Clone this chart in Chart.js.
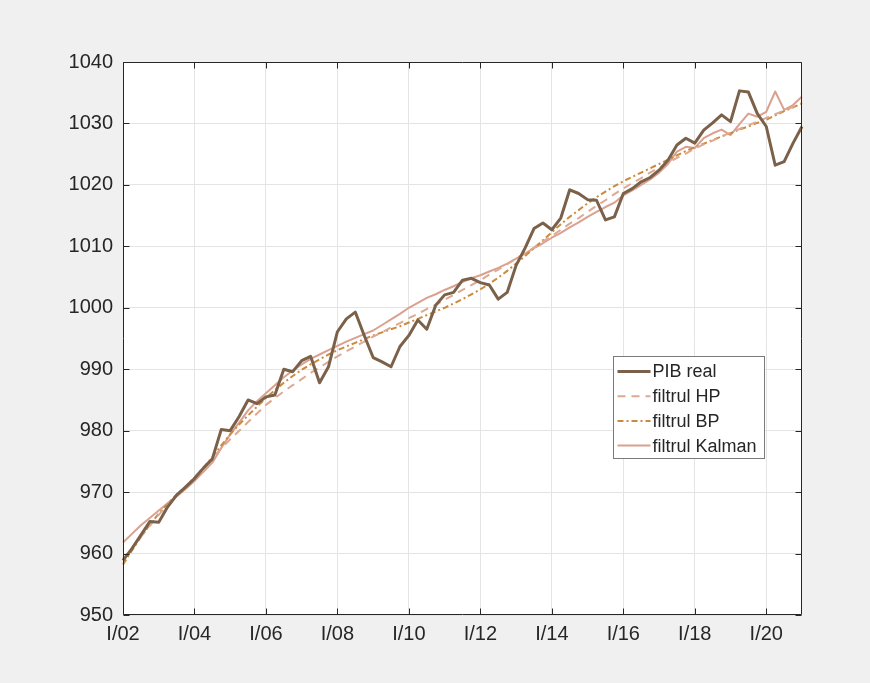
<!DOCTYPE html>
<html>
<head>
<meta charset="utf-8">
<script src="https://cdn.jsdelivr.net/npm/chart.js@4.4.1/dist/chart.umd.min.js"></script>
<style>
  html, body { margin: 0; padding: 0; background: #f0f0f0; }
  canvas { display: block; }
</style>
</head>
<body>
<canvas id="gdpChart" width="870" height="683"></canvas>
<script>
// quarters from I/02 to I/21
const years = ['02','03','04','05','06','07','08','09','10','11','12','13','14','15','16','17','18','19','20'];
const quarterNames = ['I', 'II', 'III', 'IV'];
const lastQuarter = 'I/21';
const xTickLabels = ['I/02','I/04','I/06','I/08','I/10','I/12','I/14','I/16','I/18','I/20'];
const yTicks = [950, 960, 970, 980, 990, 1000, 1010, 1020, 1030, 1040];

// series
const pibReal = [
  958.9, 960.8, 963.0, 965.2, 965.1, 967.6, 969.5, 970.8, 972.2, 973.9,
  975.4, 980.2, 980.0, 982.3, 985.0, 984.4, 985.5, 985.8, 990.0, 989.6,
  991.4, 992.1, 987.8, 990.4, 996.1, 998.2, 999.3, 995.5, 991.9, 991.2,
  990.4, 993.7, 995.5, 998.0, 996.5, 1000.4, 1002.1, 1002.5, 1004.5, 1004.8,
  1004.1, 1003.7, 1001.4, 1002.5, 1006.9, 1009.7, 1012.9, 1013.8, 1012.7, 1014.6,
  1019.2, 1018.6, 1017.6, 1017.5, 1014.3, 1014.8, 1018.6, 1019.4, 1020.5, 1021.2,
  1022.4, 1024.0, 1026.5, 1027.6, 1026.8, 1028.9, 1030.1, 1031.4, 1030.3, 1035.3,
  1035.1, 1031.6, 1029.5, 1023.2, 1023.8, 1026.8, 1029.5
];
const filtrulHP = [
  959.0, 960.9, 962.7, 964.5, 966.3, 967.9, 969.4, 970.9, 972.4, 974.0,
  975.6, 977.1, 978.6, 980.0, 981.4, 982.8, 984.2, 985.3, 986.4, 987.4,
  988.4, 989.4, 990.3, 991.2, 992.1, 992.9, 993.7, 994.5, 995.3, 996.0,
  996.8, 997.5, 998.3, 999.0, 999.8, 1000.5, 1001.3, 1002.1, 1002.9, 1003.7,
  1004.5, 1005.4, 1006.2, 1007.1, 1008.0, 1008.9, 1009.8, 1010.8, 1011.7, 1012.7,
  1013.7, 1014.6, 1015.6, 1016.6, 1017.5, 1018.5, 1019.4, 1020.3, 1021.1, 1022.0,
  1022.8, 1023.6, 1024.4, 1025.1, 1025.9, 1026.6, 1027.2, 1027.9, 1028.5, 1029.1,
  1029.7, 1030.3, 1030.9, 1031.5, 1032.1, 1032.7, 1033.3
];
const filtrulBP = [
  958.2, 960.5, 962.7, 964.7, 966.5, 968.1, 969.6, 970.9, 972.4, 974.0,
  975.7, 977.6, 979.4, 981.0, 982.5, 983.9, 985.3, 986.6, 987.8, 988.9,
  989.9, 990.8, 991.6, 992.4, 993.1, 993.7, 994.3, 994.9, 995.5, 996.0,
  996.5, 997.0, 997.6, 998.2, 998.8, 999.4, 1000.0, 1000.7, 1001.4, 1002.2,
  1003.0, 1003.9, 1004.9, 1006.0, 1007.2, 1008.4, 1009.7, 1011.0, 1012.3, 1013.6,
  1014.8, 1015.9, 1017.0, 1018.0, 1018.9, 1019.8, 1020.6, 1021.3, 1022.0, 1022.7,
  1023.4, 1024.1, 1024.8, 1025.5, 1026.1, 1026.7, 1027.3, 1027.9, 1028.4, 1029.0,
  1029.5, 1030.1, 1030.6, 1031.3, 1032.0, 1032.6, 1033.3
];
const filtrulKalman = [
  961.8, 963.2, 964.6, 965.8, 967.0, 968.2, 969.3, 970.5, 971.8, 973.3,
  974.8, 977.2, 979.4, 981.3, 983.3, 984.8, 986.1, 987.4, 988.7, 989.8,
  990.8, 991.7, 992.4, 993.1, 993.8, 994.5, 995.1, 995.7, 996.3, 997.2,
  998.1, 999.0, 1000.0, 1000.8, 1001.6, 1002.2, 1002.9, 1003.5, 1004.2, 1004.8,
  1005.3, 1005.9, 1006.5, 1007.2, 1008.0, 1008.8, 1009.7, 1010.5, 1011.4, 1012.2,
  1013.1, 1013.9, 1014.8, 1015.6, 1016.4, 1017.1, 1018.3, 1019.1, 1020.0, 1020.9,
  1022.0, 1023.4, 1025.4, 1026.2, 1026.0, 1027.6, 1028.4, 1029.0, 1028.1, 1029.9,
  1031.6, 1031.1, 1031.9, 1035.2, 1032.2, 1033.0, 1034.4
];

// build the category labels (I/02, II/02, ... I/21)
const quarterLabels = [];
years.forEach(yr => quarterNames.forEach(q => quarterLabels.push(q + '/' + yr)));
quarterLabels.push(lastQuarter);

const textColor = '#262626';
const fontFamily = "'Liberation Sans', Arial, Helvetica, sans-serif";

// grey figure, white axes
const figureBackground = {
  id: 'figureBackground',
  beforeDraw(chart) {
    const {ctx, chartArea: a} = chart;
    ctx.save();
    ctx.fillStyle = '#f0f0f0';
    ctx.fillRect(0, 0, chart.width, chart.height);
    ctx.fillStyle = '#ffffff';
    ctx.fillRect(a.left, a.top, a.right - a.left, a.bottom - a.top);
    ctx.restore();
  }
};

// matlab style box with ticks pointing inwards
const axesBox = {
  id: 'axesBox',
  afterDraw(chart) {
    const {ctx, chartArea: a, scales: {x, y}} = chart;
    const L = Math.round(a.left) + 0.5, R = Math.round(a.right) - 0.5;
    const T = Math.round(a.top) + 0.5, B = Math.round(a.bottom) - 0.5;
    const tl = 6;
    ctx.save();
    ctx.strokeStyle = textColor;
    ctx.lineWidth = 1;
    ctx.beginPath();
    ctx.rect(L, T, R - L, B - T);
    yTicks.forEach(v => {
      const py = Math.round(y.getPixelForValue(v)) + 0.5;
      ctx.moveTo(L, py); ctx.lineTo(L + tl, py);
      ctx.moveTo(R, py); ctx.lineTo(R - tl, py);
    });
    xTickLabels.forEach(lbl => {
      const px = Math.round(x.getPixelForValue(quarterLabels.indexOf(lbl))) + 0.5;
      ctx.moveTo(px, B); ctx.lineTo(px, B - tl);
      ctx.moveTo(px, T); ctx.lineTo(px, T + tl);
    });
    ctx.stroke();
    ctx.restore();
  }
};

// legend box inside the axes
const boxLegend = {
  id: 'boxLegend',
  afterDraw(chart) {
    const ctx = chart.ctx;
    const x0 = 613.5, y0 = 356.5, w = 151, h = 102;
    const rowH = 24.7;
    ctx.save();
    ctx.fillStyle = '#ffffff';
    ctx.fillRect(x0, y0, w, h);
    ctx.strokeStyle = '#7a7a7a';
    ctx.lineWidth = 1;
    ctx.strokeRect(x0, y0, w, h);
    ctx.font = '18px ' + fontFamily;
    ctx.textBaseline = 'middle';
    ctx.fillStyle = textColor;
    chart.data.datasets.forEach((ds, i) => {
      const ry = y0 + 15 + i * rowH;
      ctx.save();
      ctx.strokeStyle = ds.borderColor;
      ctx.lineWidth = ds.borderWidth;
      ctx.setLineDash(ds.borderDash || []);
      ctx.beginPath();
      ctx.moveTo(x0 + 4, ry);
      ctx.lineTo(x0 + 37, ry);
      ctx.stroke();
      ctx.restore();
      ctx.fillText(ds.label, x0 + 39, ry + 1);
    });
    ctx.restore();
  }
};

const gdpChart = new Chart(document.getElementById('gdpChart'), {
  type: 'line',
  data: {
    labels: quarterLabels,
    datasets: [
      {label: 'PIB real', data: pibReal, borderColor: '#7b6149', borderWidth: 3},
      {label: 'filtrul HP', data: filtrulHP, borderColor: '#dda992', borderWidth: 2, borderDash: [8, 6]},
      {label: 'filtrul BP', data: filtrulBP, borderColor: '#cb8a3c', borderWidth: 2, borderDash: [6, 3, 2, 3]},
      {label: 'filtrul Kalman', data: filtrulKalman, borderColor: '#daa190', borderWidth: 2}
    ]
  },
  options: {
    responsive: false,
    animation: false,
    devicePixelRatio: 1,
    layout: {padding: {left: 0, top: 62, right: 68, bottom: 0}},
    elements: {point: {radius: 0}, line: {tension: 0, borderJoinStyle: 'round'}},
    plugins: {legend: {display: false}, tooltip: {enabled: false}},
    scales: {
      x: {
        type: 'category',
        offset: false,
        afterFit: s => { s.height = 68; },
        border: {display: false},
        grid: {color: '#e4e4e4', drawTicks: false},
        ticks: {
          autoSkip: false,
          maxRotation: 0,
          padding: 7,
          color: textColor,
          font: {size: 20, family: fontFamily},
          callback: function (val) {
            const lbl = this.getLabelForValue(val);
            return xTickLabels.includes(lbl) ? lbl : null; // hide other quarters and their grid lines
          }
        }
      },
      y: {
        min: 950,
        max: 1040,
        afterFit: s => { s.width = 123; },
        border: {display: false},
        grid: {color: '#e4e4e4', drawTicks: false},
        ticks: {
          stepSize: 10,
          padding: 10,
          color: textColor,
          font: {size: 20, family: fontFamily},
          callback: v => String(v) // plain numbers, no thousands separator
        }
      }
    }
  },
  plugins: [figureBackground, axesBox, boxLegend]
});
</script>
</body>
</html>
